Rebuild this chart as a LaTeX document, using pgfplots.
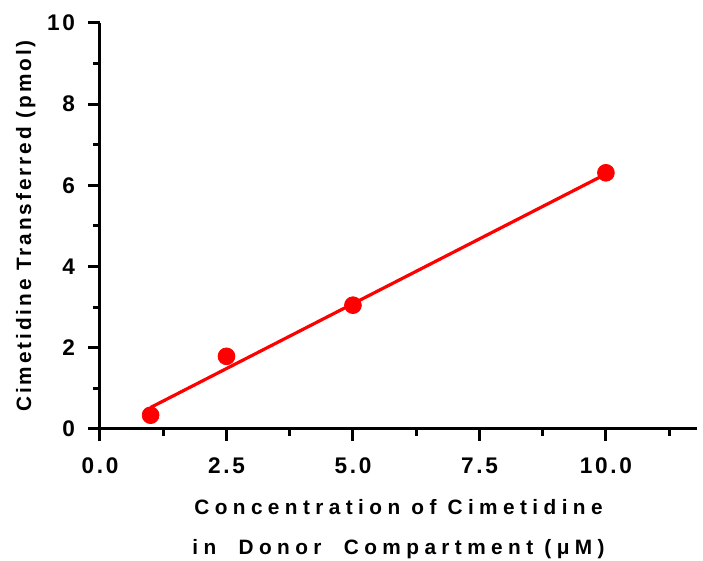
\documentclass[border=0pt]{standalone}
\usepackage{fontspec}
\setmainfont{Liberation Sans}
\newfontfamily\labfont{Liberation Sans}[LetterSpace=26]
\newfontfamily\ylabfont{Liberation Sans}[LetterSpace=14]
\newfontfamily\tickfont{Liberation Sans}[LetterSpace=12]
\usepackage{pgfplots}
\pgfplotsset{compat=1.18}
\begin{document}
\begin{tikzpicture}
\path[use as bounding box] (-50pt,-66pt) rectangle (301.5pt,214.5pt);
\begin{axis}[
  scale only axis,
  width=298.5pt, height=203pt,
  at={(0,0)}, anchor=south west,
  axis lines=left,
  axis line style={line width=1.5pt, -},
  xmin=0, xmax=11.8, ymin=0, ymax=10,
  xtick={0,2.5,5,7.5,10},
  minor xtick={1.25,3.75,6.25,8.75,11.25},
  ytick={0,2,4,6,8,10},
  minor ytick={1,3,5,7,9},
  tick align=outside,
  major tick length=6pt, minor tick length=3.5pt,
  every tick/.style={line width=1.5pt, black},
  /pgf/number format/assume math mode=true,
  xticklabel style={/pgf/number format/.cd, fixed, fixed zerofill, precision=1},
  yticklabel style={/pgf/number format/.cd, fixed, precision=0},
  tick label style={font=\tickfont\bfseries\fontsize{11.3}{13}\selectfont},
  xticklabel shift=5pt,
  yticklabel shift=3pt,
  xlabel={Concentration of Cimetidine\\in~~Donor~~Compartment (μM)},
  xlabel style={align=center, font=\labfont\bfseries\fontsize{10.4}{20}\selectfont, yshift=-6pt},
  ylabel={Cimetidine Transferred (pmol)},
  ylabel style={font=\ylabfont\bfseries\fontsize{10.4}{12}\selectfont, yshift=-1pt},
  clip=false,
]
\addplot[red, line width=1.6pt] coordinates {(1,0.53) (10,6.28)};
\addplot[only marks, mark=*, mark size=4.2pt, color=red] coordinates {
(1,0.34) (2.5,1.79) (5,3.05) (10,6.31)};
\end{axis}
\end{tikzpicture}
\end{document}
